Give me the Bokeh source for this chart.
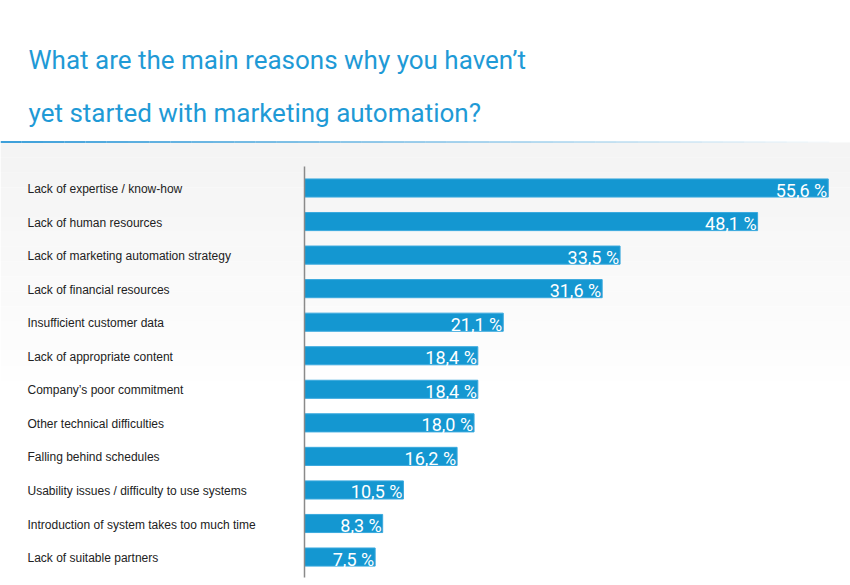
from bokeh.plotting import figure
from bokeh.models import Range1d, Label, ColumnDataSource
from bokeh.core.properties import value
from bokeh.embed import file_html
from bokeh.resources import INLINE

# ---------------- data ----------------
categories = [
    "Lack of expertise / know-how",
    "Lack of human resources",
    "Lack of marketing automation strategy",
    "Lack of financial resources",
    "Insufficient customer data",
    "Lack of appropriate content",
    "Company\u2019s poor commitment",
    "Other technical difficulties",
    "Falling behind schedules",
    "Usability issues / difficulty to use systems",
    "Introduction of system takes too much time",
    "Lack of suitable partners",
]
values = [55.6, 48.1, 33.5, 31.6, 21.1, 18.4, 18.4, 18.0, 16.2, 10.5, 8.3, 7.5]
value_labels = [f"{v:.1f} %".replace(".", ",") for v in values]
title_lines = ["What are the main reasons why you haven\u2019t",
               "yet started with marketing automation?"]

# ---------------- layout helpers ----------------
W, H = 850, 585
X0, XS = 304.0, 9.42        # px of 0 %, px per %
ROW0, ROWH = 187.5, 33.55   # px of first row centre, row pitch

def cx(px):
    return (px - X0) / XS

def cy(px):
    return (px - ROW0) / ROWH

x_start, x_end = cx(0), cx(W)
y_top, y_bot = cy(0), cy(H)

p = figure(width=W, height=H, output_backend="svg", toolbar_location=None,
           x_range=Range1d(x_start, x_end), y_range=Range1d(y_bot, y_top),
           min_border=0, min_border_left=0, min_border_right=0,
           min_border_top=0, min_border_bottom=0)
p.axis.visible = False
p.grid.visible = False
p.outline_line_color = None
p.background_fill_color = "white"
p.border_fill_color = "white"

# background band under the header, fading to white
n = 16
top_px, bot_px = 142, 380
for i in range(n):
    a = top_px + (bot_px - top_px) * i / n
    b = top_px + (bot_px - top_px) * (i + 1) / n
    g = int(244 + (255 - 244) * i / n)
    p.quad(left=x_start, right=x_end, top=cy(a), bottom=cy(b),
           fill_color=f"#{g:02x}{g:02x}{g:02x}", line_color=None)

# header separator line with fade to the right
segs = 40
for i in range(segs):
    a = 850 * i / segs
    b = 850 * (i + 1) / segs
    alpha = max(0.0, 1.0 - (i / segs) * 1.02)
    p.quad(left=cx(a), right=cx(b), top=cy(140.5), bottom=cy(142.5),
           fill_color="#3ea0da", fill_alpha=alpha, line_color=None)

# bars
ys = list(range(len(categories)))
src = ColumnDataSource(dict(y=ys, v=values, cat=categories, lab=value_labels,
                            lx=[x_start] * len(ys)))
p.hbar(y="y", left=0, right="v", height=0.54, source=src,
       fill_color="#1497d1", line_color="#3aa9de", line_width=1)

# vertical axis line
p.segment(x0=0, x1=0, y0=cy(166), y1=cy(577), line_color="#8a8a8a", line_width=1.5)

# category labels
p.text(x="lx", y="y", text="cat", source=src, x_offset=27, y_offset=1,
       text_font=value("Liberation Sans"), text_font_size="12px",
       text_color="#222222", text_baseline="middle", text_align="left")

# value labels inside bars
p.text(x="v", y="y", text="lab", source=src, x_offset=-1, y_offset=2,
       text_font=value("Roboto"), text_font_size="18px",
       text_color="white", text_baseline="middle", text_align="right")

# title
for i, (t, by) in enumerate(zip(title_lines, [59, 112])):
    p.add_layout(Label(x=28, y=H - by, x_units="screen", y_units="screen",
                       text=t, text_font="Roboto",
                       text_font_size="26px", text_color="#1f9ad6",
                       text_baseline="alphabetic"))

open("out.html", "w").write(file_html(p, INLINE))
